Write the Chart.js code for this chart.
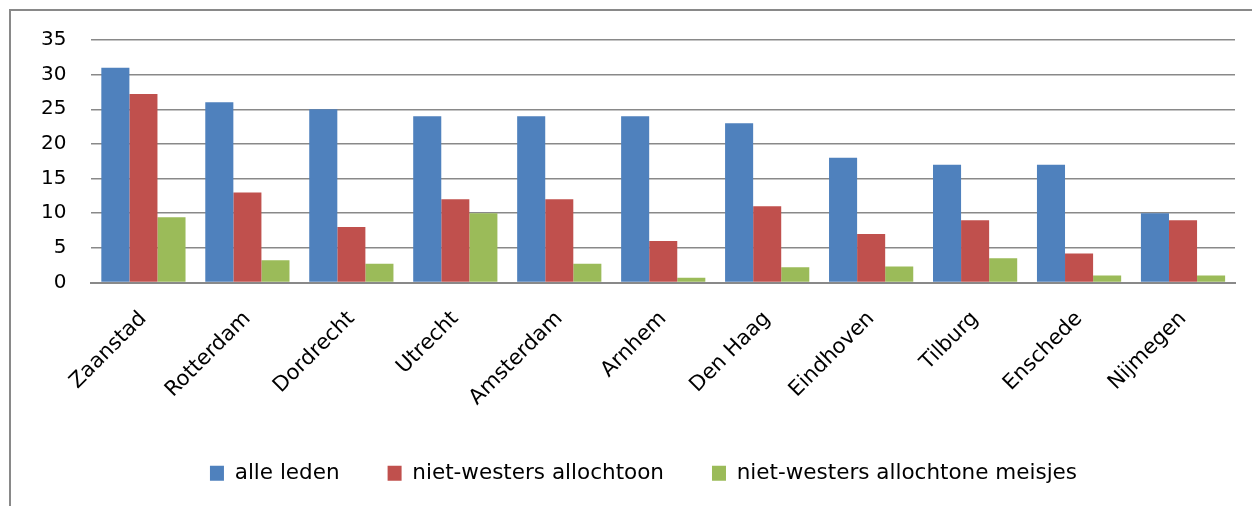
<!DOCTYPE html>
<html>
<head>
<meta charset="utf-8">
<script src="https://cdn.jsdelivr.net/npm/chart.js@4"></script>
<style>
  html, body { margin: 0; padding: 0; background: #fff; }
  #wrap { position: relative; width: 1252px; height: 506px; overflow: hidden; }
  #frame { position: absolute; left: 9px; top: 9px; width: 1300px; height: 600px; border: 2px solid #898989; box-sizing: border-box; }
  #c { position: absolute; left: 0; top: 0; }
</style>
</head>
<body>
<div id="wrap">
  <div id="frame"></div>
  <canvas id="c" width="1252" height="506"></canvas>
</div>
<script>
const categories = ["Zaanstad", "Rotterdam", "Dordrecht", "Utrecht", "Amsterdam", "Arnhem", "Den Haag", "Eindhoven", "Tilburg", "Enschede", "Nijmegen"];
const alleLeden = [31, 26, 25, 24, 24, 24, 23, 18, 17, 17, 10];
const nietWestersAllochtoon = [27.2, 13, 8, 12, 12, 6, 11, 7, 9, 4.2, 9];
const nietWestersMeisjes = [9.4, 3.2, 2.7, 10, 2.7, 0.7, 2.2, 2.3, 3.5, 1.0, 1.0];
const seriesNames = ["alle leden", "niet-westers allochtoon", "niet-westers allochtone meisjes"];
const seriesColors = ["#4F81BD", "#C0504D", "#9BBB59"];
const yTicks = [0, 5, 10, 15, 20, 25, 30, 35];

const FONT = "'DejaVu Sans', 'Liberation Sans', sans-serif";

const legendShift = {
  id: 'legendShift',
  afterLayout(chart) {
    if (chart.legend) {
      chart.legend.left += 18;
      chart.legend.right += 18;
    }
  }
};

new Chart(document.getElementById('c'), {
  type: 'bar',
  data: {
    labels: categories,
    datasets: [alleLeden, nietWestersAllochtoon, nietWestersMeisjes].map((d, i) => ({
      label: seriesNames[i],
      data: d,
      backgroundColor: seriesColors[i],
      borderWidth: 0,
      barPercentage: 1.0,
      categoryPercentage: 0.81
    }))
  },
  plugins: [legendShift],
  options: {
    responsive: false,
    animation: false,
    devicePixelRatio: 1,
    layout: { padding: { left: 16, right: 17, top: 40, bottom: 12 } },
    plugins: {
      tooltip: { enabled: false },
      legend: {
        position: 'bottom',
        labels: {
          font: { family: FONT, size: 21.5 },
          color: '#000',
          boxWidth: 14,
          boxHeight: 15,
          padding: 48,
          useBorderRadius: false
        }
      }
    },
    scales: {
      x: {
        offset: true,
        grid: { display: false, drawTicks: false },
        border: { display: true, color: '#898989', width: 2 },
        ticks: {
          color: '#000',
          font: { family: FONT, size: 21 },
          maxRotation: 45,
          minRotation: 45,
          padding: 24,
          autoSkip: false
        },
        afterFit: (axis) => {
          axis.height = 132;
          axis.paddingLeft = 0;
          axis.paddingRight = 0;
        }
      },
      y: {
        min: 0,
        max: 35,
        afterBuildTicks: (axis) => { axis.ticks = yTicks.map(v => ({ value: v })); },
        grid: { color: '#898989', lineWidth: 1.5, drawTicks: false },
        border: { display: false },
        ticks: {
          color: '#000',
          font: { family: FONT, size: 20 },
          padding: 25
        }
      }
    }
  }
});
</script>
</body>
</html>
